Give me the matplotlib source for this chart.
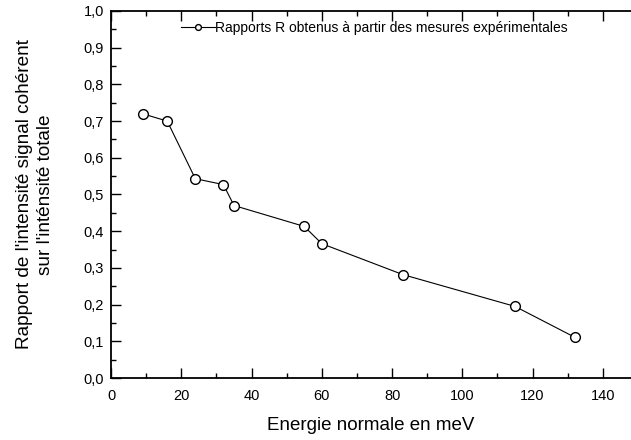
import numpy as np
import matplotlib.pyplot as plt
from matplotlib.ticker import MultipleLocator, FuncFormatter

plt.rcParams['font.family'] = ['Liberation Sans', 'DejaVu Sans']

# energie normale (meV) et rapports R mesures
energie = [9, 16, 24, 32, 35, 55, 60, 83, 115, 132]
rapport = [0.72, 0.70, 0.543, 0.527, 0.47, 0.413, 0.366, 0.282, 0.195, 0.111]

fig = plt.figure(figsize=(6.31, 4.4), dpi=100)
ax = fig.add_axes([111 / 631, 62 / 440, 1 - 111 / 631, 367 / 440])

ax.plot(energie, rapport, "k-", lw=0.8, marker="o", ms=7, mfc="white",
        mec="black", mew=1.0,
        label="Rapports R obtenus à partir des mesures expérimentales")

ax.set_xlim(0, 148)
ax.set_ylim(0, 1.0)
ax.xaxis.set_major_locator(MultipleLocator(20))
ax.xaxis.set_minor_locator(MultipleLocator(10))
ax.yaxis.set_major_locator(MultipleLocator(0.1))
ax.yaxis.set_minor_locator(MultipleLocator(0.05))
ax.yaxis.set_major_formatter(FuncFormatter(lambda v, p: f"{v:.1f}".replace(".", ",")))

for s in ["left", "bottom", "top"]:
    ax.spines[s].set_linewidth(1.3)
ax.spines["right"].set_visible(False)

ax.tick_params(which="both", direction="out", labelsize=10.5, width=1.0, pad=5)
ax.tick_params(axis="x", pad=8)
ax.tick_params(which="major", length=7)
ax.tick_params(which="minor", length=3.5)
ax.tick_params(top=True, which="both", direction="in")
ax.tick_params(axis="x", which="both", bottom=True)

ax.set_xlabel("Energie normale en meV", fontsize=13.5, labelpad=10)
ax.set_ylabel("Rapport de l'intensité signal cohérent\nsur l'inténsité totale",
              fontsize=13.7, labelpad=21, multialignment="center", linespacing=1.35)

leg = ax.legend(loc="upper left", bbox_to_anchor=(0.11, 1.008), frameon=False,
                fontsize=10, handlelength=2.5, handletextpad=0.0, markerscale=0.6)

fig.savefig("out.png", dpi=100)
